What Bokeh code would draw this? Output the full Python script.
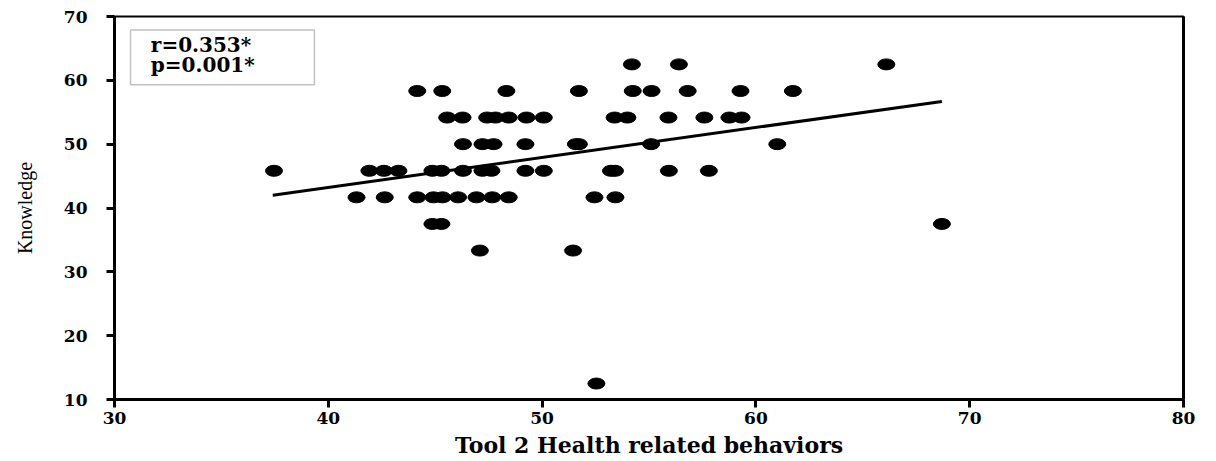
from bokeh.plotting import figure
from bokeh.models import Range1d, LinearAxis, BoxAnnotation, Label, ColumnDataSource, FixedTicker
from bokeh.embed import file_html
from bokeh.resources import INLINE

# Knowledge levels (y) and Tool 2 scores (x) for each level
k_62_5 = [54.2, 56.4, 66.1]
k_58_3 = [44.16, 45.33, 48.33, 51.72, 54.24, 55.12, 56.81, 59.28, 61.73]
k_54_2 = [45.56, 46.28, 47.43, 47.82, 48.44, 49.27, 50.08, 53.39, 53.99, 55.91, 57.59, 58.76, 59.33]
k_50_0 = [46.3, 47.21, 47.73, 49.22, 51.58, 51.72, 55.10, 61.0]
k_45_8 = [37.46, 41.92, 42.6, 43.28, 44.87, 45.29, 46.3, 47.21, 47.63, 49.22, 50.08, 53.22, 53.41, 55.93, 57.8]
k_41_7 = [41.32, 42.64, 44.16, 44.92, 45.34, 46.07, 46.93, 47.67, 48.44, 52.45, 53.43]
k_37_5 = [44.87, 45.29, 68.7]
k_33_3 = [47.09, 51.45]
k_12_5 = [52.54]

levels = [62.5, 58.33, 54.17, 50.0, 45.83, 41.67, 37.5, 33.33, 12.5]
groups = [k_62_5, k_58_3, k_54_2, k_50_0, k_45_8, k_41_7, k_37_5, k_33_3, k_12_5]

# Regression line end points
trend_x = [37.4, 68.7]
trend_y = [42.0, 56.7]

x_ticks = [30, 40, 50, 60, 70, 80]
y_ticks = [10, 20, 30, 40, 50, 60, 70]

stats_text = ["r=0.353*", "p=0.001*"]

xs, ys = [], []
for lv, g in zip(levels, groups):
    for v in g:
        xs.append(v)
        ys.append(lv)
src = ColumnDataSource(dict(x=xs, y=ys))

p = figure(width=1200, height=461, x_range=Range1d(30, 80), y_range=Range1d(10, 70),
           output_backend="svg", toolbar_location=None,
           min_border_left=114, min_border_right=17, min_border_top=16, min_border_bottom=62)
p.grid.visible = False
p.outline_line_color = "black"
p.outline_line_width = 2
p.background_fill_color = "white"
p.border_fill_color = "white"

serif_b = "DejaVu Serif"
for ax in [p.xaxis[0], p.yaxis[0]]:
    ax.axis_line_width = 3
    ax.axis_line_color = "black"
    ax.major_tick_line_width = 3
    ax.major_tick_out = 8
    ax.major_tick_in = 0
    ax.minor_tick_line_color = None
    ax.major_label_text_font = serif_b
    ax.major_label_text_font_style = "bold"
    ax.major_label_text_font_size = "17px"
    ax.major_label_text_color = "black"

p.xaxis.ticker = FixedTicker(ticks=x_ticks)
p.yaxis.ticker = FixedTicker(ticks=y_ticks)
p.xaxis.major_label_standoff = 4
p.yaxis.major_label_standoff = 19

p.xaxis.axis_label = "Tool 2 Health related behaviors"
p.xaxis.axis_label_text_font = serif_b
p.xaxis.axis_label_text_font_style = "bold"
p.xaxis.axis_label_text_font_size = "22px"
p.xaxis.axis_label_text_color = "black"
p.xaxis.axis_label_standoff = 5

p.yaxis.axis_label = "Knowledge"
p.yaxis.axis_label_text_font = "Liberation Serif"
p.yaxis.axis_label_text_font_style = "normal"
p.yaxis.axis_label_text_font_size = "20px"
p.yaxis.axis_label_text_color = "black"
p.yaxis.axis_label_standoff = 25

right = LinearAxis(ticker=FixedTicker(ticks=[]), major_label_text_font_size="0px",
                   axis_line_width=3, major_tick_line_color=None, minor_tick_line_color=None)
p.add_layout(right, "right")

p.ellipse(x="x", y="y", width=17, height=11, width_units="screen", height_units="screen",
          source=src, fill_color="black", line_color="black")

p.line(trend_x, trend_y, line_color="black", line_width=3)

box = BoxAnnotation(left=30.75, right=39.35, bottom=59.3, top=67.9,
                    fill_color="white", fill_alpha=1.0, line_color="#333333", line_width=1.5)
p.add_layout(box)

for txt, yy in zip(stats_text, [65.5, 62.4]):
    p.add_layout(Label(x=31.7, y=yy, text=txt, text_font=serif_b, text_font_style="bold",
                       text_font_size="20px", text_color="black", text_baseline="alphabetic"))

open("out.html", "w").write(file_html(p, INLINE))
